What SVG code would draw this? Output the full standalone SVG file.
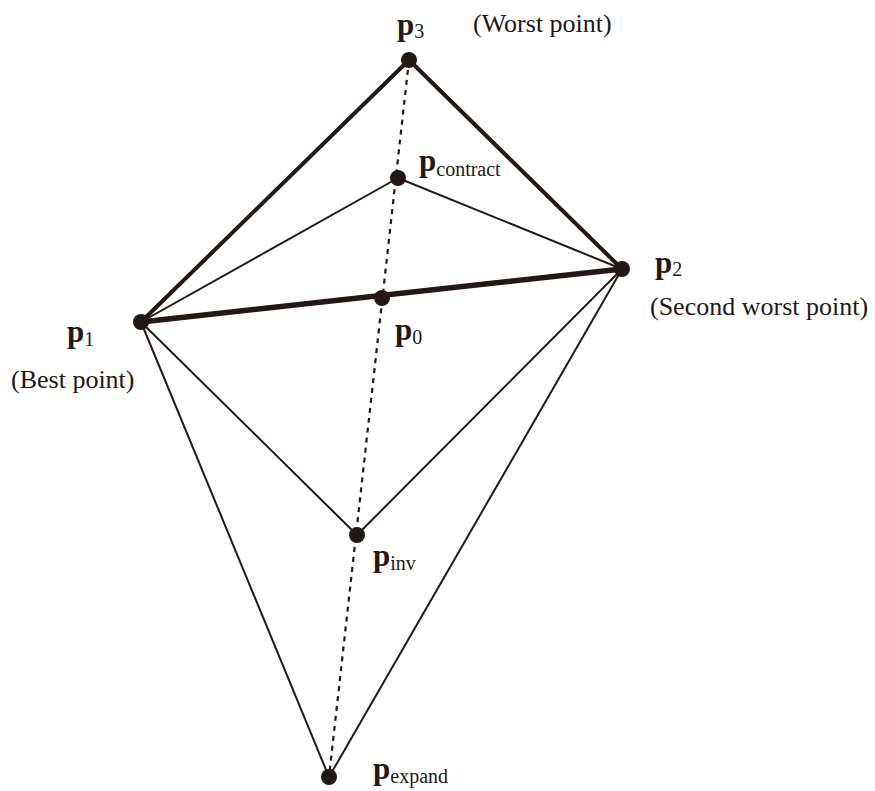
<svg xmlns="http://www.w3.org/2000/svg" width="875" height="791" viewBox="0 0 875 791">
<style>
.thick{stroke:#231815;stroke-width:4;fill:none;stroke-linecap:round}
.thin{stroke:#231815;stroke-width:2;fill:none}
.dash{stroke:#231815;stroke-width:2.2;fill:none;stroke-dasharray:5,5}
.dot{fill:#231815}
text{font-family:"Liberation Serif","Times New Roman",serif;fill:#231815;font-size:26px}
.b{font-weight:bold;font-size:31px}
.s{font-size:20px;font-weight:normal}
</style>
<rect width="875" height="791" fill="#fff"/>
<g id="connectors">
<line class="dash" x1="409" y1="60" x2="329" y2="777"/>
<line class="thin" x1="141" y1="322" x2="398" y2="178"/>
<line class="thin" x1="398" y1="178" x2="622" y2="269"/>
<line class="thin" x1="141" y1="322" x2="357" y2="535"/>
<line class="thin" x1="357" y1="535" x2="622" y2="269"/>
<line class="thin" x1="141" y1="322" x2="329" y2="777"/>
<line class="thin" x1="329" y1="777" x2="622" y2="269"/>
<line class="thick" x1="141" y1="322" x2="409" y2="60"/>
<line class="thick" x1="409" y1="60" x2="622" y2="269"/>
<line class="thick" x1="141" y1="322" x2="622" y2="269" style="stroke-width:5.5"/>
</g>
<g id="p3"><circle class="dot" cx="409" cy="60" r="8"/><text x="397" y="35"><tspan class="b">p</tspan><tspan class="s" dy="3">3</tspan></text><text x="473" y="32">(Worst point)</text></g>
<g id="pcontract"><circle class="dot" cx="398" cy="178" r="8"/><text x="419" y="171"><tspan class="b">p</tspan><tspan class="s" dy="5">contract</tspan></text></g>
<g id="p2"><circle class="dot" cx="622" cy="269" r="8"/><text x="655" y="273"><tspan class="b">p</tspan><tspan class="s" dy="3">2</tspan></text><text x="650" y="315">(Second worst point)</text></g>
<g id="p0"><circle class="dot" cx="382" cy="298" r="8"/><text x="395" y="340"><tspan class="b">p</tspan><tspan class="s" dy="4">0</tspan></text></g>
<g id="p1"><circle class="dot" cx="141" cy="322" r="8"/><text x="67" y="342"><tspan class="b">p</tspan><tspan class="s" dy="4">1</tspan></text><text x="11" y="388">(Best point)</text></g>
<g id="pinv"><circle class="dot" cx="357" cy="535" r="8"/><text x="373" y="566"><tspan class="b">p</tspan><tspan class="s" dy="4">inv</tspan></text></g>
<g id="pexpand"><circle class="dot" cx="329" cy="777" r="8"/><text x="373" y="779"><tspan class="b">p</tspan><tspan class="s" dy="4">expand</tspan></text></g>
</svg>
